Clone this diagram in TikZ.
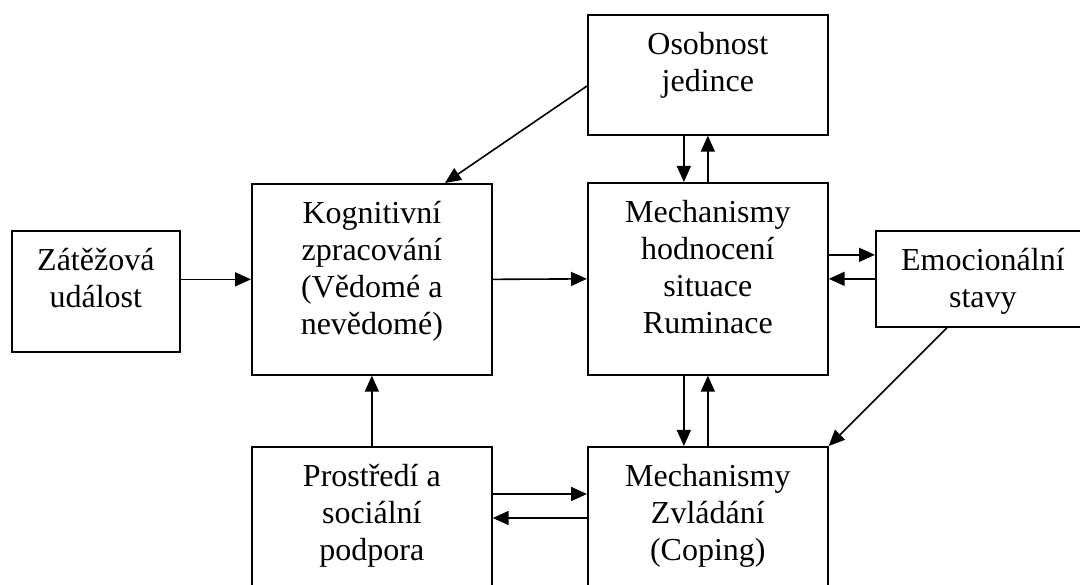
\documentclass[tikz,border=0pt]{standalone}
\usepackage{fontspec}
\setmainfont{Liberation Serif}
\usetikzlibrary{arrows.meta,calc}
\newcommand{\boxtext}[3]{\parbox[c][#2][t]{#1}{\centering\fontsize{32}{37}\selectfont\rule{0pt}{40pt}#3}}
\tikzset{
  blk/.style={draw, line width=1.7pt, inner sep=0pt, anchor=north west},
  arr/.style={line width=1.6pt, -{Triangle[length=16pt,width=14pt]}},
}
\begin{document}
\begin{tikzpicture}[x=1pt,y=-1pt]
\useasboundingbox (0,0) rectangle (1080,585);
\clip (0,0) rectangle (1080,585);
\node[blk] (zat) at (11,230) {\boxtext{168pt}{121pt}{Zátěžová\\událost}};
\node[blk] (kog) at (251,183) {\boxtext{240pt}{191pt}{Kognitivní\\zpracování\\(Vědomé a\\nevědomé)}};
\node[blk] (oso) at (587,14) {\boxtext{240pt}{120pt}{Osobnost\\jedince}};
\node[blk] (mech) at (587,182) {\boxtext{240pt}{192pt}{Mechanismy\\hodnocení\\situace\\Ruminace}};
\node[blk] (emo) at (875,230) {\boxtext{214pt}{96pt}{Emocionální\\stavy}};
\node[blk] (pros) at (251,446) {\boxtext{240pt}{191pt}{Prostředí a\\sociální\\podpora}};
\node[blk] (zvl) at (587,446) {\boxtext{240pt}{191pt}{Mechanismy\\Zvládání\\(Coping)}};

\draw[arr] (zat.east |- kog.center) -- (kog.west);
\draw[arr] (kog.east) -- (mech.west);
\draw[arr] ([xshift=-24pt]oso.south) -- ([xshift=-24pt]mech.north);
\draw[arr] (mech.north) -- (oso.south);
\draw[arr] ([yshift=24pt]mech.east) -- ([yshift=24pt]emo.west);
\draw[arr] (emo.west) -- (mech.east);
\draw[arr] (pros.north) -- (kog.south);
\draw[arr] ([xshift=-24pt]mech.south) -- ([xshift=-24pt]zvl.north);
\draw[arr] (zvl.north) -- (mech.south);
\draw[arr] ($(pros.north east)+(0,48)$) -- ($(zvl.north west)+(0,48)$);
\draw[arr] ($(zvl.north west)+(0,72)$) -- ($(pros.north east)+(0,72)$);
\draw[arr] ($(oso.north west)+(0,72)$) -- ($(kog.north west)+(194,0)$);
\draw[arr] ($(emo.south west)+(72,0)$) -- (zvl.north east);
\end{tikzpicture}
\end{document}
